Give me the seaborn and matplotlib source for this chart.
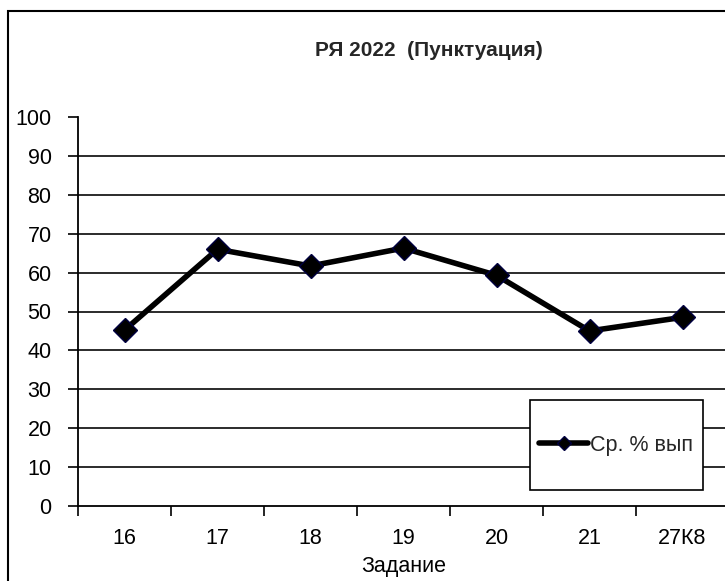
import matplotlib
matplotlib.use("Agg")
import matplotlib.pyplot as plt
import seaborn as sns
import pandas as pd
from matplotlib.patches import Rectangle
from matplotlib.lines import Line2D

# =========================
# Datos
# =========================
zadanie = ["16", "17", "18", "19", "20", "21", "27К8"]
sr_proc = [45.2, 66.0, 61.7, 66.3, 59.3, 45.0, 48.5]
y_ticks = [0, 10, 20, 30, 40, 50, 60, 70, 80, 90, 100]
titulo = "РЯ 2022  (Пунктуация)"
nombre_serie = "Ср. % вып"

df = pd.DataFrame({"Задание": zadanie, "val": sr_proc})
df["pos"] = range(len(df))

sns.set_theme(style="white")
plt.rcParams["font.family"] = ["Liberation Sans", "DejaVu Sans"]

W, H = 725, 581
fig = plt.figure(figsize=(W / 100, H / 100), dpi=100)
ax = fig.add_axes([78 / W, 1 - 506 / H, (729 - 78) / W, (506 - 117) / H])

# linea principal
sns.lineplot(data=df, x="pos", y="val", ax=ax, color="black", linewidth=4,
             marker="D", markersize=12, markerfacecolor="black",
             markeredgecolor="#000040", markeredgewidth=1, sort=False, legend=False)

ax.set_xlim(-0.5, len(zadanie) - 0.5)
ax.set_ylim(0, 100)
ax.set_yticks(y_ticks)
ax.set_yticklabels([str(t) for t in y_ticks])
ax.set_xticks(df["pos"])
ax.set_xticklabels(zadanie)
ax.set_xticks([i - 0.5 for i in range(len(zadanie) + 1)], minor=True)

fs = 15.5
ax.tick_params(axis="x", which="major", length=0, pad=16, labelsize=fs, colors="black")
ax.tick_params(axis="x", which="minor", length=7, width=1.2, color="black", direction="out", bottom=True)
ax.tick_params(axis="y", length=7, width=1.2, color="black", direction="out", left=True,
               pad=12, labelsize=fs, labelcolor="black")

for t in y_ticks[1:-1]:
    ax.axhline(t, color="#1a1a1a", linewidth=1.3, zorder=0)

for s in ["top", "right"]:
    ax.spines[s].set_visible(False)
for s in ["left", "bottom"]:
    ax.spines[s].set_color("black")
    ax.spines[s].set_linewidth(1.3)

ax.set_xlabel("Задание", fontsize=fs, color="black", labelpad=5)
ax.set_ylabel("")

fig.text(429 / W, 1 - 50 / H, titulo, ha="center", va="center", fontsize=15,
         fontweight="bold", family=["Liberation Sans Narrow", "Liberation Sans", "DejaVu Sans"])

# leyenda
fig.patches.append(Rectangle((530 / W, 1 - 490 / H), (703 - 530) / W, 90 / H,
                             transform=fig.transFigure, facecolor="white",
                             edgecolor="black", linewidth=1.2, zorder=5))
handle = Line2D([], [], color="black", linewidth=4, marker="D", markersize=7,
                markerfacecolor="black", markeredgecolor="#000040")
leg = fig.legend([handle], [nombre_serie], loc="center left",
                 bbox_to_anchor=(528 / W, 1 - 445 / H), frameon=False,
                 handlelength=2.3, handletextpad=0.1, fontsize=fs, borderpad=0)
leg.set_zorder(6)

# marco de la figura
fig.patches.append(Rectangle((8 / W, -0.1), 1.2, 1.1 - 11 / H, transform=fig.transFigure,
                             fill=False, edgecolor="black", linewidth=1.5))

fig.savefig("out.png", dpi=100)
